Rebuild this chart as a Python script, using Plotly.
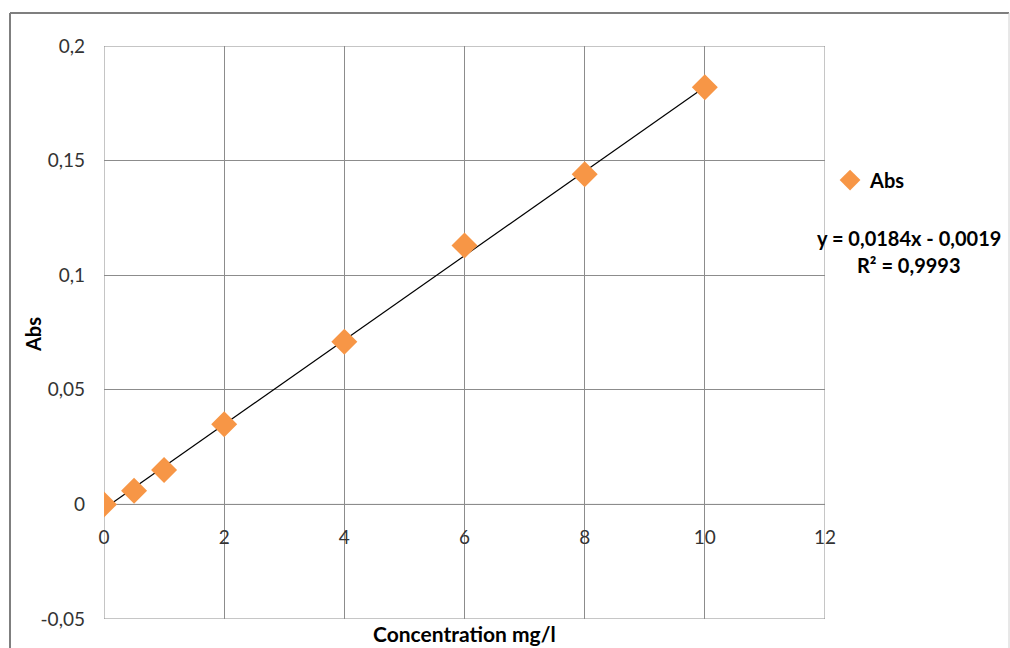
import plotly.graph_objects as go

# Data
conc = [0, 0.5, 1, 2, 4, 6, 8, 10]
absorb = [0.0, 0.006, 0.015, 0.035, 0.071, 0.113, 0.144, 0.182]
slope = 0.0184
intercept = -0.0019
trend_x = [0, 10]
trend_y = [slope * x + intercept for x in trend_x]

x_ticks = [0, 2, 4, 6, 8, 10, 12]
x_ticktext = ["0", "2", "4", "6", "8", "10", "12"]
y_ticks = [-0.05, 0, 0.05, 0.1, 0.15, 0.2]
y_ticktext = ["-0,05", "0", "0,05", "0,1", "0,15", "0,2"]

FONT = "Lato, Open Sans, sans-serif"
ORANGE = "#F79646"
GRID = "#8c8c8c"

fig = go.Figure()
fig.add_trace(go.Scatter(
    x=trend_x, y=trend_y, mode="lines",
    line=dict(color="black", width=1.2), showlegend=False, hoverinfo="skip"))
fig.add_trace(go.Scatter(
    x=conc, y=absorb, mode="markers", name="<b>Abs</b>",
    marker=dict(symbol="diamond", size=20, color=ORANGE, line=dict(width=0))))

fig.update_layout(
    width=1010, height=648,
    margin=dict(l=104, r=185, t=46, b=29),
    paper_bgcolor="white", plot_bgcolor="white",
    separators=", ",
    font=dict(family=FONT, size=19, color="#404040"),
    xaxis=dict(
        range=[0, 12], tickvals=x_ticks, ticktext=x_ticktext,
        showgrid=True, gridcolor=GRID, gridwidth=1, zeroline=False,
        showline=False, anchor="free", position=0.2,
        ticks="", ticklabelstandoff=20, automargin=False,
        tickfont=dict(size=19, color="#333333"),
    ),
    yaxis=dict(
        range=[-0.05, 0.2], tickvals=y_ticks, ticktext=y_ticktext,
        showgrid=True, gridcolor=GRID, gridwidth=1, zeroline=False,
        showline=False, ticks="", ticklabelstandoff=18, automargin=False,
        tickfont=dict(size=19, color="#333333"),
    ),
    legend=dict(
        x=1.007, y=0.80, xanchor="left", yanchor="top",
        font=dict(size=20, color="black"), bgcolor="rgba(0,0,0,0)",
        itemwidth=30,
    ),
    showlegend=True,
)

# plot area border and zero line (gridlines at range edges)
fig.add_shape(type="rect", xref="x", yref="y", x0=0, x1=12, y0=-0.05, y1=0.2,
              line=dict(color=GRID, width=1), layer="below")
fig.add_shape(type="line", xref="x", yref="y", x0=0, x1=12, y0=0, y1=0,
              line=dict(color=GRID, width=1), layer="below")

# axis titles
fig.add_annotation(
    x=0.5, y=-0.025, xref="paper", yref="paper", xanchor="center", yanchor="middle",
    text="<b>Concentration mg/l</b>", showarrow=False,
    font=dict(family=FONT, size=21, color="black"))
fig.add_annotation(
    x=(33 - 104) / 721, y=(619 - 335) / 573, xref="paper", yref="paper",
    xanchor="center", yanchor="middle", textangle=-90,
    text="<b>Abs</b>", showarrow=False,
    font=dict(family=FONT, size=20, color="black"))

# trendline equation
fig.add_annotation(
    x=1.1165, y=0.665, xref="paper", yref="paper", xanchor="center", yanchor="middle",
    text="<b>y = 0,0184x - 0,0019</b>", showarrow=False,
    font=dict(family=FONT, size=20, color="black"))
fig.add_annotation(
    x=1.1165, y=0.618, xref="paper", yref="paper", xanchor="center", yanchor="middle",
    text="<b>R² = 0,9993</b>", showarrow=False,
    font=dict(family=FONT, size=20, color="black"))

# outer chart frame
fig.add_shape(type="line", xref="paper", yref="paper",
              x0=(10 - 104) / 721, x1=(1009 - 104) / 721,
              y0=(619 - 13) / 573, y1=(619 - 13) / 573,
              line=dict(color="#7f7f7f", width=2))
fig.add_shape(type="line", xref="paper", yref="paper",
              x0=(10 - 104) / 721, x1=(10 - 104) / 721,
              y0=(619 - 13) / 573, y1=(619 - 660) / 573,
              line=dict(color="#7f7f7f", width=2))
fig.add_shape(type="line", xref="paper", yref="paper",
              x0=(1009 - 104) / 721, x1=(1009 - 104) / 721,
              y0=(619 - 13) / 573, y1=(619 - 660) / 573,
              line=dict(color="#d0d0d0", width=1))

fig.write_html("out.html")
